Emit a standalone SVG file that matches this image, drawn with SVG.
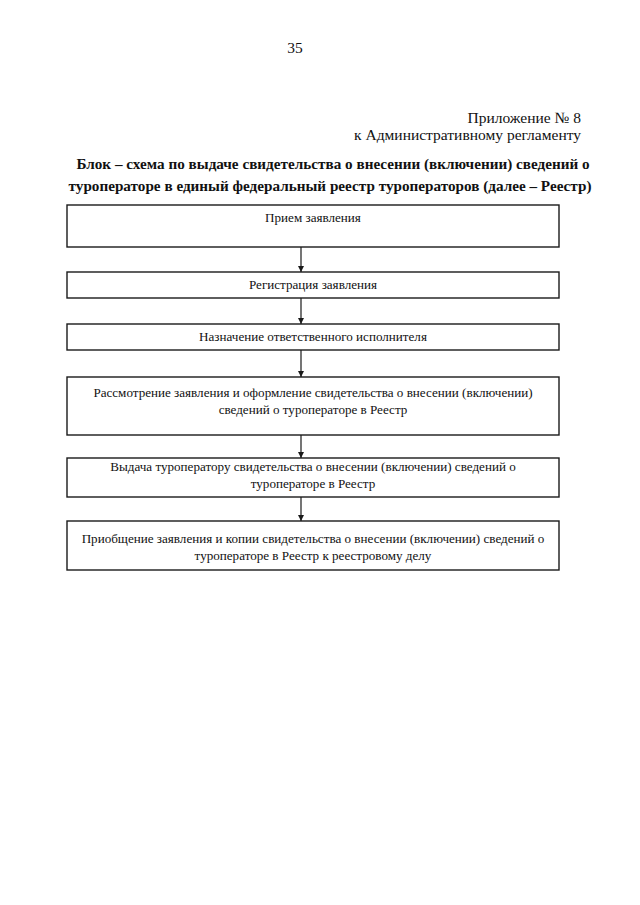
<svg xmlns="http://www.w3.org/2000/svg" width="640" height="905" viewBox="0 0 640 905">
<style>
.t{font-family:"Liberation Serif","Times New Roman",serif;fill:#111}
.hd{font-size:15.5px}
.ti{font-size:15.2px;font-weight:bold;text-anchor:middle}
.bx{font-size:13.1px;text-anchor:middle}
.box{fill:#fff;stroke:#1a1a1a;stroke-width:1.4}
.con{stroke:#1a1a1a;stroke-width:1.2;fill:none;marker-end:url(#ah)}
</style>
<defs>
<marker id="ah" viewBox="0 0 10 10" refX="10" refY="5" markerWidth="7" markerHeight="6" markerUnits="userSpaceOnUse" orient="auto">
<path d="M0,0 L10,5 L0,10 z" fill="#1a1a1a"/>
</marker>
</defs>
<rect width="640" height="905" fill="#fff"/>
<g id="header">
<text class="t hd" x="295" y="53" text-anchor="middle">35</text>
<text class="t hd" x="581" y="123" text-anchor="end">Приложение № 8</text>
<text class="t hd" x="581" y="140" text-anchor="end">к Административному регламенту</text>
<text class="t ti" x="333" y="169">Блок – схема по выдаче свидетельства о внесении (включении) сведений о</text>
<text class="t ti" x="330" y="191">туроператоре в единый федеральный реестр туроператоров (далее – Реестр)</text>
</g>
<g id="connectors">
<line class="con" x1="301" y1="247" x2="301" y2="272"/>
<line class="con" x1="301" y1="298" x2="301" y2="324"/>
<line class="con" x1="301" y1="350" x2="301" y2="377"/>
<line class="con" x1="301" y1="435" x2="301" y2="458"/>
<line class="con" x1="301" y1="497" x2="301" y2="521"/>
</g>
<g id="n1">
<rect class="box" x="67" y="205" width="492" height="42"/>
<text class="t bx" x="313" y="222">Прием заявления</text>
</g>
<g id="n2">
<rect class="box" x="67" y="272" width="492" height="26"/>
<text class="t bx" x="313" y="289">Регистрация заявления</text>
</g>
<g id="n3">
<rect class="box" x="67" y="324" width="492" height="26"/>
<text class="t bx" x="313" y="341">Назначение ответственного исполнителя</text>
</g>
<g id="n4">
<rect class="box" x="67" y="377" width="492" height="58"/>
<text class="t bx" x="313" y="397">Рассмотрение заявления и оформление свидетельства о внесении (включении)</text>
<text class="t bx" x="313" y="414">сведений о туроператоре в Реестр</text>
</g>
<g id="n5">
<rect class="box" x="67" y="458" width="492" height="39"/>
<text class="t bx" x="313" y="471">Выдача туроператору свидетельства о внесении (включении) сведений о</text>
<text class="t bx" x="313" y="488">туроператоре в Реестр</text>
</g>
<g id="n6">
<rect class="box" x="67" y="521" width="492" height="49"/>
<text class="t bx" x="313" y="543">Приобщение заявления и копии свидетельства о внесении (включении) сведений о</text>
<text class="t bx" x="313" y="560">туроператоре в Реестр к реестровому делу</text>
</g>
</svg>
